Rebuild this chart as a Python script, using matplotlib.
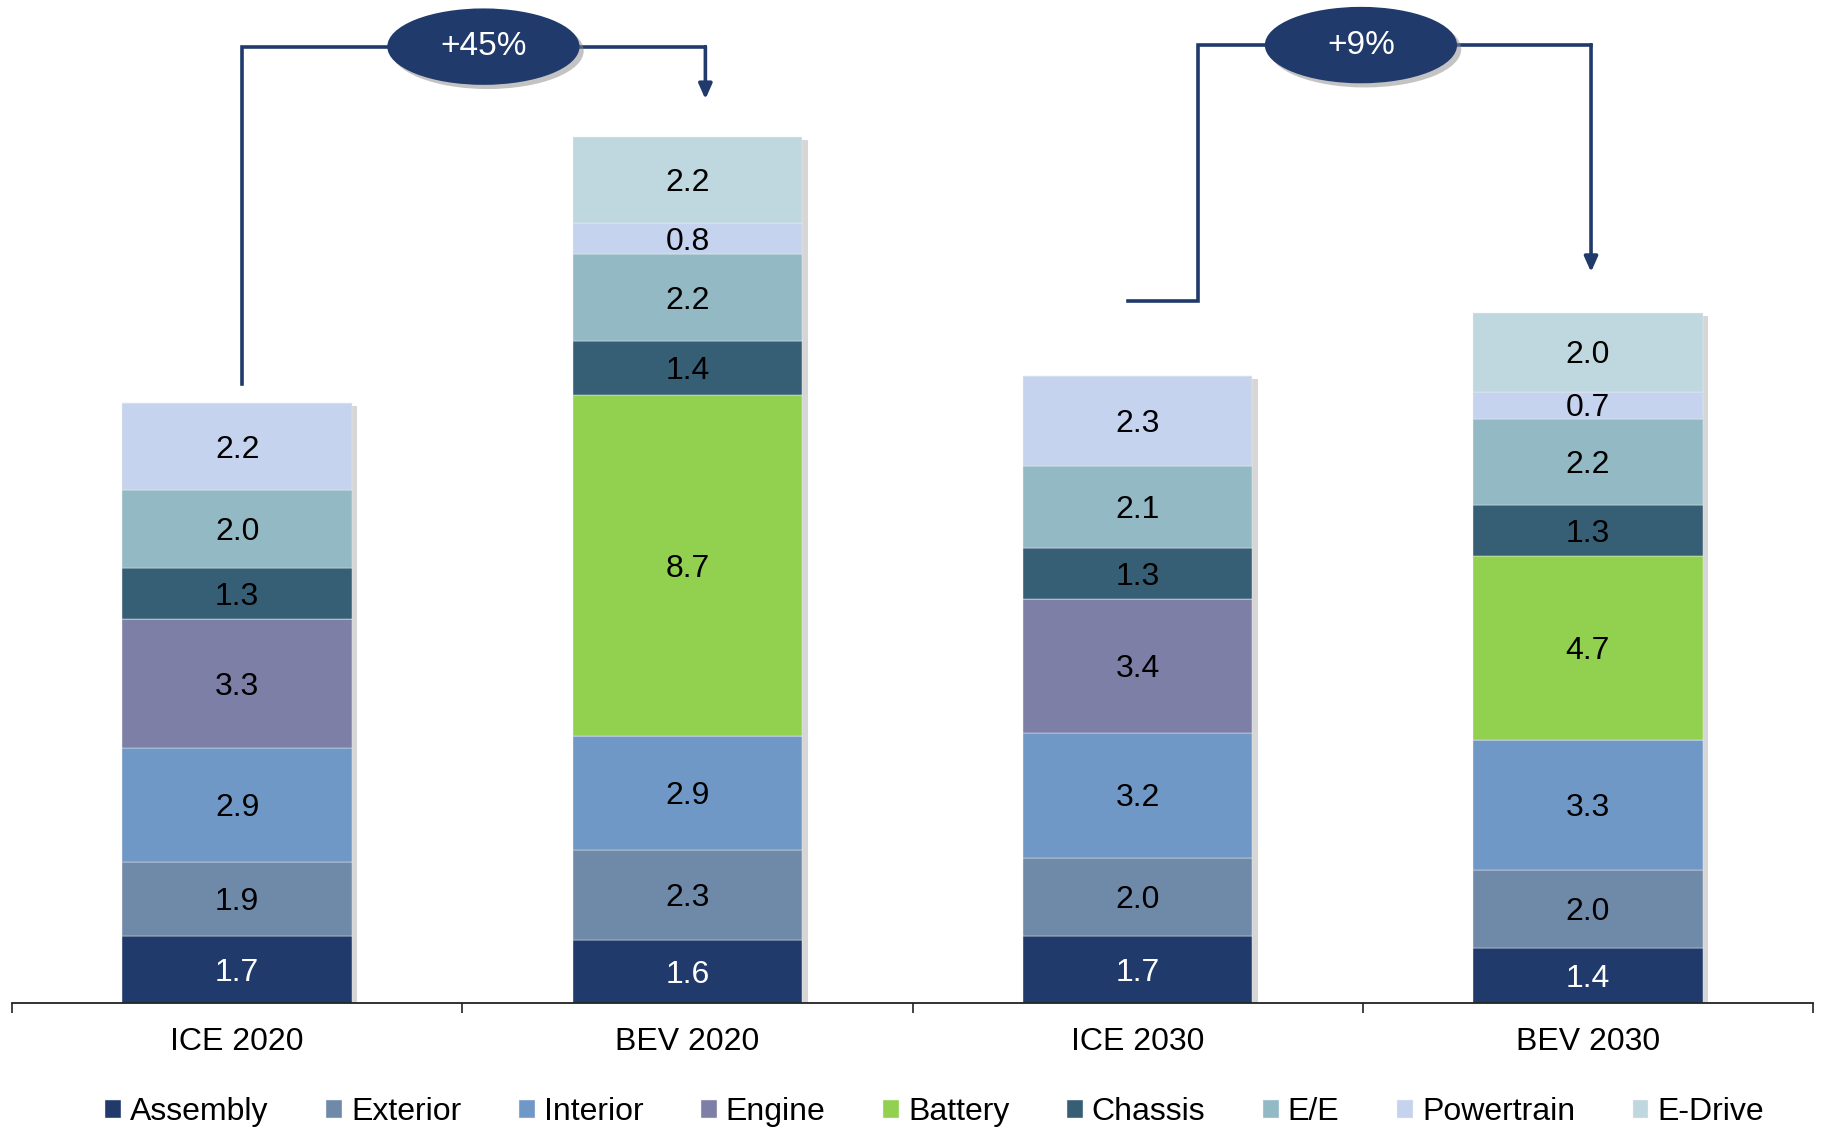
import matplotlib.pyplot as plt
import matplotlib.patheffects as pe
from matplotlib.patches import Ellipse
import numpy as np

plt.rcParams['font.family'] = ['Liberation Sans', 'DejaVu Sans']

# data
categories = ['ICE 2020', 'BEV 2020', 'ICE 2030', 'BEV 2030']
components = ['Assembly', 'Exterior', 'Interior', 'Engine', 'Battery',
              'Chassis', 'E/E', 'Powertrain', 'E-Drive']
colors = ['#203A6C', '#6F89A8', '#6F98C6', '#7E7FA7', '#92D050',
          '#365F76', '#93B9C4', '#C5D3EE', '#BFD7DE']
assembly = [1.7, 1.6, 1.7, 1.4]
exterior = [1.9, 2.3, 2.0, 2.0]
interior = [2.9, 2.9, 3.2, 3.3]
engine = [3.3, 0, 3.4, 0]
battery = [0, 8.7, 0, 4.7]
chassis = [1.3, 1.4, 1.3, 1.3]
ee = [2.0, 2.2, 2.1, 2.2]
powertrain = [2.2, 0.8, 2.3, 0.7]
edrive = [0, 2.2, 0, 2.0]
series = [assembly, exterior, interior, engine, battery, chassis, ee, powertrain, edrive]
changes = ['+45%', '+9%']

navy = '#203A6C'
fig = plt.figure(figsize=(18.22, 11.28), dpi=100)
ax = fig.add_axes([12/1822, 125/1128, 1801/1822, 1003/1128])

x = np.arange(len(categories))
w = 0.51
totals = np.sum(series, axis=0)

# soft shadow behind each bar
ax.bar(x + 0.012, totals - 0.08, w, color='#9a9a9a', alpha=0.4, zorder=1)

bottom = np.zeros(len(categories))
for name, vals, c in zip(components, series, colors):
    vals = np.array(vals)
    ax.bar(x, vals, w, bottom=bottom, color=c, label=name,
           edgecolor='#f2f2f2', linewidth=0.3, zorder=2)
    for xi, b, v in zip(x, bottom, vals):
        if v > 0:
            ax.text(xi, b + v / 2 - 0.08, f'{v:.1f}', ha='center', va='center',
                    fontsize=23, color='white' if name == 'Assembly' else 'black',
                    zorder=3)
    bottom += vals

# brackets with change labels
def bracket(xs, ys, tip, label, ex, ey):
    ax.plot(xs, ys, color=navy, lw=2.6, solid_joinstyle='miter', zorder=4)
    ax.annotate('', xy=(xs[-1], tip), xytext=(xs[-1], ys[-1]),
                arrowprops=dict(arrowstyle='-|>,head_length=0.9,head_width=0.4',
                                color=navy, lw=2.6, shrinkA=0, shrinkB=0), zorder=4)
    e = Ellipse((ex, ey), 0.427, 1.95, facecolor=navy, edgecolor='none', zorder=5,
                path_effects=[pe.withSimplePatchShadow(offset=(3, -3), shadow_rgbFace='#888888', alpha=0.5)])
    ax.add_patch(e)
    ax.text(ex, ey, label, ha='center', va='center', color='white', fontsize=24, zorder=6)

bracket([0.011, 0.011, 1.04, 1.04], [15.8, 24.4, 24.4, 24.4], 23.06, changes[0], 0.547, 24.4)
bracket([1.978, 2.133, 2.133, 3.007, 3.007], [17.9, 17.9, 24.45, 24.45, 24.45], 18.65,
        changes[1], 2.496, 24.44)

ax.set_xlim(-0.5, 3.5)
ax.set_ylim(0, 25.59)
for s in ['top', 'right', 'left']:
    ax.spines[s].set_visible(False)
ax.spines['bottom'].set_color('#222222')
ax.spines['bottom'].set_linewidth(1.3)
ax.set_yticks([])
ax.set_xticks(x)
ax.set_xticklabels(categories, fontsize=23)
ax.tick_params(axis='x', which='major', length=0, pad=17)
ax.set_xticks(np.arange(-0.5, 4, 1), minor=True)
ax.tick_params(axis='x', which='minor', length=7, width=1.2, color='#222222')

handles, labels = ax.get_legend_handles_labels()
fig.legend(handles, labels, loc='center', bbox_to_anchor=(0.513, 0.014), ncol=9,
           frameon=False, fontsize=23, handlelength=0.5, handleheight=0.5,
           handletextpad=0.28, columnspacing=1.8)

fig.savefig('out.png', dpi=100)
